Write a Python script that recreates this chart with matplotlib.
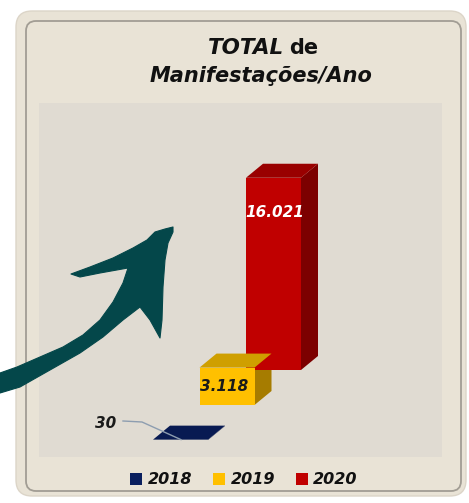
import matplotlib
matplotlib.use("Agg")
import matplotlib.pyplot as plt
from matplotlib.patches import FancyBboxPatch, Polygon, Rectangle, Patch

# ---------------- data ----------------
years = ["2018", "2019", "2020"]
values = [30, 3118, 16021]
value_labels = ["30", "3.118", "16.021"]
title_line1_bold = "TOTAL"
title_line1_rest = "de"
title_line2 = "Manifestações/Ano"

# ---------------- style ----------------
front_colors = ["#0a1f5e", "#ffc000", "#c00000"]
top_colors = ["#081a52", "#cf9f00", "#990000"]
side_colors = ["#06143f", "#a67c00", "#7c0000"]
label_colors = ["#1a1a1a", "#1a1a1a", "#ffffff"]

W, H = 469, 503
DPI = 100
fig = plt.figure(figsize=(W / DPI, H / DPI), dpi=DPI)
fig.patch.set_facecolor("white")

# background / decoration axes in pixel coordinates
bg = fig.add_axes([0, 0, 1, 1], zorder=0)
bg.set_xlim(0, W)
bg.set_ylim(H, 0)
bg.axis("off")

panel = FancyBboxPatch((16, 11), 450, 485, boxstyle="round,pad=0,rounding_size=16",
                       facecolor="#e9e3d6", edgecolor="#dcd5c8", lw=1.0)
bg.add_patch(panel)
inner = FancyBboxPatch((26, 21), 435, 470, boxstyle="round,pad=0,rounding_size=10",
                       facecolor="none", edgecolor="#a29d94", lw=1.3)
bg.add_patch(inner)
plot_bg = Rectangle((39, 103), 403, 354, facecolor="#e0dbd2", edgecolor="none")
bg.add_patch(plot_bg)

# title
tkw = dict(family="DejaVu Sans", color="#111111", fontsize=15)
bg.text(284, 48, title_line1_bold, ha="right", va="center", fontweight="bold",
        fontstyle="italic", fontsize=15.5, family="DejaVu Sans", color="#111111")
bg.text(289, 48, title_line1_rest, ha="left", va="center", fontweight="bold", **tkw)
bg.text(261, 76, title_line2, ha="center", va="center", fontweight="bold",
        fontstyle="italic", **tkw)

# ---------------- data axes (3D-style staggered bars) ----------------
ax = fig.add_axes([39 / W, 1 - 457 / H, 403 / W, 354 / H], zorder=1)
ax.patch.set_alpha(0)
ax.axis("off")
px_per_unit = 0.0120
ax.set_xlim(0, 403)
ax.set_ylim(-(457 - 440) / px_per_unit, (440 - 103) / px_per_unit)

x_start = 114          # front-left of first series (x units)
x_step = 46.5          # shift per series
bar_w = 55
depth_dx = 17
depth_dy = 14 / px_per_unit
base_step = 35 / px_per_unit

order = list(range(len(values)))[::-1]  # draw back (2020) to front (2018)
for i in order:
    v = values[i]
    x0 = x_start + i * x_step
    b = i * base_step
    top = b + v
    # side face
    ax.add_patch(Polygon([(x0 + bar_w, b), (x0 + bar_w + depth_dx, b + depth_dy),
                          (x0 + bar_w + depth_dx, top + depth_dy), (x0 + bar_w, top)],
                         closed=True, facecolor=side_colors[i], edgecolor="none", zorder=2))
    # front face
    ax.add_patch(Rectangle((x0, b), bar_w, v, facecolor=front_colors[i],
                           edgecolor="none", zorder=3))
    # top face
    ax.add_patch(Polygon([(x0, top), (x0 + bar_w, top), (x0 + bar_w + depth_dx, top + depth_dy),
                          (x0 + depth_dx, top + depth_dy)],
                         closed=True, facecolor=top_colors[i], edgecolor="none", zorder=3))

lkw = dict(family="DejaVu Sans", fontweight="bold", fontstyle="italic", fontsize=11,
           ha="center", va="center", zorder=5)
# 2018 label (outside, with leader line)
x0 = x_start + 0 * x_step
ax.text(x0 - 47, 17 / px_per_unit, value_labels[0], color=label_colors[0], **lkw)
ax.plot([x0 - 30, x0 - 11, x0 + 28], [19 / px_per_unit, 18 / px_per_unit, values[0]],
        color="#8d9db0", lw=1.0, zorder=4)
# 2019 label (inside front face)
x1 = x_start + 1 * x_step
ax.text(x1 + bar_w / 2 - 3, base_step + values[1] / 2, value_labels[1],
        color=label_colors[1], **lkw)
# 2020 label (inside, near top)
x2 = x_start + 2 * x_step
ax.text(x2 + bar_w / 2 + 1, 2 * base_step + values[2] - 35 / px_per_unit, value_labels[2],
        color=label_colors[2], **lkw)

# ---------------- arrow decoration ----------------
deco = fig.add_axes([0, 0, 1, 1], zorder=2)
deco.set_xlim(0, W)
deco.set_ylim(H, 0)
deco.axis("off")
deco.patch.set_alpha(0)
arrow_pts = [(173, 227), (165, 229), (155, 232), (147, 240), (133, 248), (113, 258),
             (90, 267), (71, 274),
             (80, 277), (100, 273), (128, 268),
             (123, 283), (113, 302), (100, 320), (83, 335), (63, 347), (40, 357),
             (17, 367), (0, 373),
             (0, 393),
             (20, 387), (50, 370), (80, 353), (103, 337), (123, 320), (140, 307),
             (150, 320), (160, 338),
             (162, 320), (163, 287), (165, 260), (168, 243), (173, 232)]
deco.add_patch(Polygon(arrow_pts, closed=True, facecolor="#04474a", edgecolor="#04474a",
                       lw=0.8, joinstyle="round"))

# ---------------- legend ----------------
handles = [Patch(facecolor=c, edgecolor="none") for c in front_colors]
leg = fig.legend(handles, years, loc="center", bbox_to_anchor=(244 / W, 1 - 480 / H),
                 ncol=3, frameon=False, handlelength=0.75, handleheight=0.75,
                 handletextpad=0.35, columnspacing=1.3,
                 prop=dict(family="DejaVu Sans", weight="bold", style="italic", size=11.5))
for t in leg.get_texts():
    t.set_color("#111111")

fig.savefig("out.png", dpi=DPI, facecolor=fig.get_facecolor())
